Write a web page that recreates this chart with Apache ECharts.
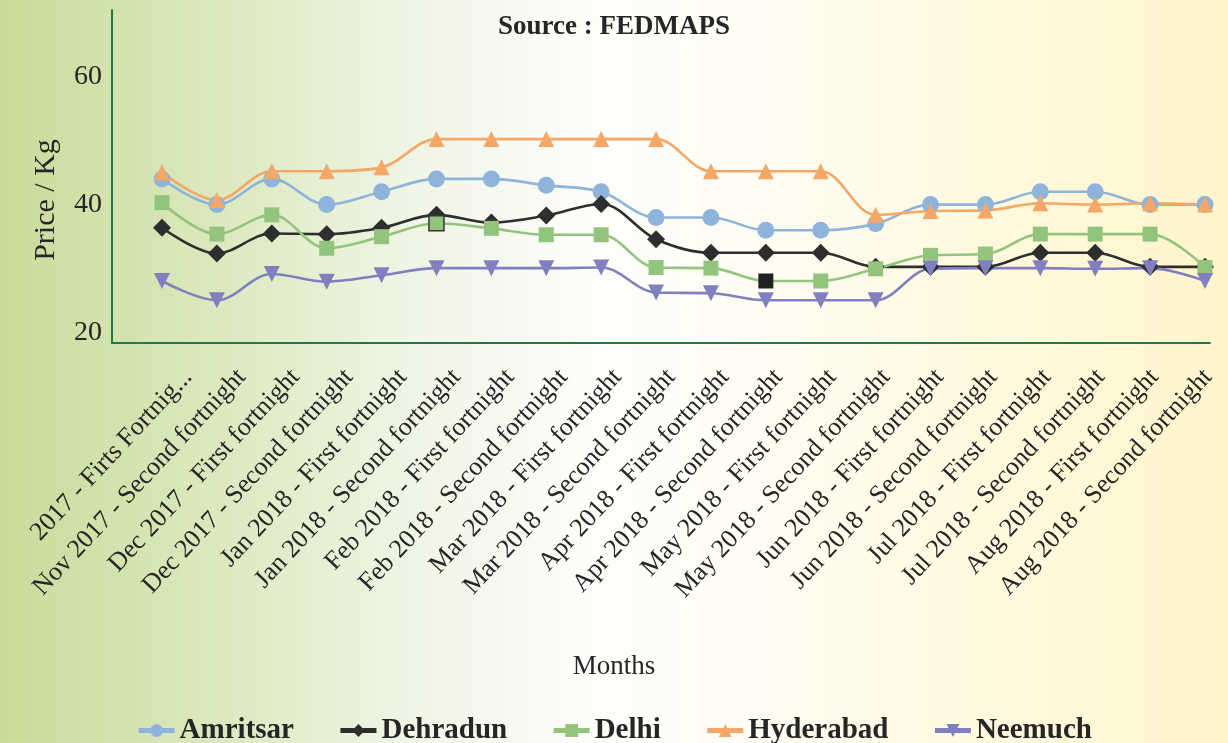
<!DOCTYPE html>
<html>
<head>
<meta charset="utf-8">
<title>Price / Kg by fortnight</title>
<script src="https://cdn.jsdelivr.net/npm/echarts@6/dist/echarts.min.js"></script>
<style>
  html, body { margin: 0; padding: 0; }
  #chart {
    width: 1228px;
    height: 743px;
    background: linear-gradient(to right, #c8dc9a 0%, #dce9bf 18%, #eef4e2 32%, #fdfdfb 48%, #fffdf3 62%, #fff9df 80%, #fff5cb 100%);
  }
</style>
</head>
<body>
<div id="chart"></div>
<script>
var months = [
  '2017 - Firts Fortnig...',
  'Nov 2017 - Second fortnight',
  'Dec 2017 - First fortnight',
  'Dec 2017 - Second fortnight',
  'Jan 2018 - First fortnight',
  'Jan 2018 - Second fortnight',
  'Feb 2018 - First fortnight',
  'Feb 2018 - Second fortnight',
  'Mar 2018 - First fortnight',
  'Mar 2018 - Second fortnight',
  'Apr 2018 - First fortnight',
  'Apr 2018 - Second fortnight',
  'May 2018 - First fortnight',
  'May 2018 - Second fortnight',
  'Jun 2018 - First fortnight',
  'Jun 2018 - Second fortnight',
  'Jul 2018 - First fortnight',
  'Jul 2018 - Second fortnight',
  'Aug 2018 - First fortnight',
  'Aug 2018 - Second fortnight'
]
var amritsar = [44, 40, 44, 40, 42, 44, 44, 43, 42, 38, 38, 36, 36, 37, 40, 40, 42, 42, 40, 40]
var dehradun = [36.4, 32.4, 35.5, 35.4, 36.4, 38.4, 37.2, 38.3, 40.1, 34.6, 32.5, 32.5, 32.5, 30.3, 30.3, 30.3, 32.5, 32.5, 30.3, 30.3]
var delhi = [40.3, 35.4, 38.4, 33.2, 35, 37.1, 36.3, 35.3, 35.3, 30.2, 30.1, 28.1, 28.1, 30, 32.1, 32.3, 35.4, 35.4, 35.4, 30.2]
var hyderabad = [45, 40.7, 45.2, 45.2, 45.8, 50.2, 50.2, 50.2, 50.2, 50.2, 45.2, 45.2, 45.2, 38.4, 39, 39.1, 40.2, 40, 40.2, 40]
var neemuch = [28.1, 25.1, 29.2, 28, 29, 30.1, 30.1, 30.1, 30.2, 26.3, 26.2, 25.1, 25.1, 25.1, 30, 30.1, 30.1, 30, 30.1, 28.1]
var yTicks = [20, 40, 60]

var font = 'Liberation Serif'
var ink = '#262626'
var axisGreen = '#1f7a4b'

function lineSeries (name, values, color, symbol, size, rotate) {
  return {
    name: name,
    type: 'line',
    xAxisIndex: 1,
    yAxisIndex: 1,
    smooth: 0.35,
    symbol: symbol,
    symbolSize: size,
    symbolRotate: rotate || 0,
    showAllSymbol: true,
    lineStyle: { color: color, width: 2.6 },
    itemStyle: { color: color, opacity: 1 },
    emphasis: { disabled: true },
    data: values
  }
}

// two odd Delhi markers in the source picture
var delhiData = delhi.map(function (v, i) {
  if (i === 11) return { value: v, itemStyle: { color: '#222' } }
  if (i === 5) return { value: v, itemStyle: { borderColor: '#333', borderWidth: 1.5 } }
  return v
})

var chart = echarts.init(document.getElementById('chart'))
var option = {
  backgroundColor: 'transparent',
  animation: false,
  textStyle: { fontFamily: font, color: ink },
  title: {
    text: 'Source : FEDMAPS',
    left: 'center',
    top: 9,
    textStyle: { fontFamily: font, fontSize: 27, fontWeight: 'bold', color: ink }
  },
  graphic: [
    {
      type: 'text',
      x: 46,
      y: 200,
      rotation: Math.PI / 2,
      style: { text: 'Price / Kg', font: '30px "Liberation Serif"', fill: ink, align: 'center', verticalAlign: 'middle' }
    },
    {
      type: 'text',
      x: 614,
      y: 667,
      style: { text: 'Months', font: '27px "Liberation Serif"', fill: ink, align: 'center', verticalAlign: 'middle' }
    }
  ],
  legend: {
    top: 711,
    left: 'center',
    itemWidth: 36,
    itemHeight: 16,
    itemGap: 44,
    lineStyle: { width: 5 },
    textStyle: { fontFamily: font, fontSize: 29, fontWeight: 'bold', color: ink },
    data: ['Amritsar', 'Dehradun', 'Delhi', 'Hyderabad', 'Neemuch']
  },
  grid: [
    // frame: the green axis lines
    { left: 112, right: 18, top: 10, bottom: 400 },
    // data
    { left: 162, right: 23, top: 12, bottom: 410 },
    // category labels
    { left: 188, right: 20, top: 12, bottom: 410 }
  ],
  xAxis: [
    {
      gridIndex: 0,
      type: 'value',
      min: 0,
      max: 1,
      axisLine: { show: true, onZero: false, lineStyle: { color: axisGreen, width: 2 } },
      axisTick: { show: false },
      axisLabel: { show: false },
      splitLine: { show: false }
    },
    {
      gridIndex: 1,
      type: 'category',
      boundaryGap: false,
      data: months,
      axisLine: { show: false },
      axisTick: { show: false },
      axisLabel: { show: false }
    },
    {
      gridIndex: 2,
      type: 'category',
      boundaryGap: false,
      data: months,
      axisLine: { show: false },
      axisTick: { show: false },
      axisLabel: {
        interval: 0,
        rotate: 47,
        margin: 40,
        fontFamily: font,
        fontSize: 26,
        color: ink
      }
    }
  ],
  yAxis: [
    {
      gridIndex: 0,
      type: 'value',
      min: 0,
      max: 1,
      axisLine: { show: true, onZero: false, lineStyle: { color: axisGreen, width: 2 } },
      axisTick: { show: false },
      axisLabel: { show: false },
      splitLine: { show: false }
    },
    {
      gridIndex: 1,
      type: 'value',
      min: 20,
      max: 70,
      interval: 20,
      offset: 50,
      axisLine: { show: false },
      axisTick: { show: false },
      splitLine: { show: false },
      axisLabel: {
        margin: 10,
        fontFamily: font,
        fontSize: 28,
        color: ink,
        showMaxLabel: false,
        formatter: function (v) { return yTicks.indexOf(v) >= 0 ? String(v) : '' }
      }
    },
    {
      gridIndex: 2,
      type: 'value',
      min: 20,
      max: 70,
      show: false
    }
  ],
  series: [
    lineSeries('Amritsar', amritsar, '#8eb4dc', 'circle', 17),
    lineSeries('Dehradun', dehradun, '#2e2e2e', 'diamond', 18),
    lineSeries('Delhi', delhiData, '#93c47d', 'rect', 15),
    lineSeries('Hyderabad', hyderabad, '#f4a766', 'triangle', 16),
    lineSeries('Neemuch', neemuch, '#8080c0', 'triangle', 16, 180)
  ]
}
chart.setOption(option)
</script>
</body>
</html>
